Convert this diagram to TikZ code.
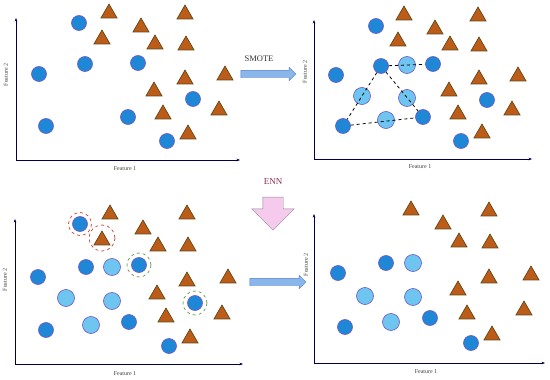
\documentclass[tikz,border=0pt]{standalone}
\usepackage{fontspec}
\setmainfont{Liberation Serif}
\usepackage{xcolor}
\usetikzlibrary{arrows.meta,shapes.geometric,shapes.arrows}
\definecolor{majblue}{RGB}{30,136,214}
\definecolor{synblue}{RGB}{110,198,240}
\definecolor{ptedge}{RGB}{112,84,196}
\definecolor{minfill}{RGB}{188,92,24}
\definecolor{minedge}{RGB}{96,72,22}
\definecolor{arrblue}{RGB}{138,182,236}
\definecolor{arredge}{RGB}{78,128,200}
\definecolor{ennpink}{RGB}{245,202,236}

\begin{document}
\begin{tikzpicture}[x=1pt, y=-1pt,
  dot/.style={circle, draw=ptedge, fill=majblue, minimum size=15pt, inner sep=0pt, line width=0.6pt},
  syn/.style={dot, fill=synblue, minimum size=17pt},
  tri/.style={regular polygon, regular polygon sides=3, draw=minedge, fill=minfill, minimum size=18.5pt, inner sep=0pt, line width=0.7pt, yshift=-2.3pt},
  axis/.style={{Stealth[length=3.5pt]}-{Stealth[length=3.5pt]}, draw=black!70!blue, line width=0.7pt},
  lab/.style={font=\fontsize{6}{7}\selectfont, text=black!75},
  ring/.style={dashed, line width=0.7pt},
  flow/.style={single arrow, draw=arredge, fill=arrblue, inner xsep=0pt, inner ysep=3.5pt, single arrow head extend=3pt}]
  \useasboundingbox (0,0) rectangle (550,380);

  % panel 1: original data
  \coordinate (o1) at (16,160); \coordinate (y1) at (16,18); \coordinate (x1) at (240,160);
  \draw[axis] (y1) -- (o1) -- (x1);
  \node[lab] (f1x) at (125,169) {Feature 1};
  \node[lab, rotate=90] (f1y) at (6,75) {Feature 2};
  \foreach \x/\y [count=\i] in {79/23,85/64,138/63,39/74,193/99,128/117,46/126,167/141}
    \node[dot] (a\i) at (\x,\y) {};
  \foreach \x/\y [count=\i] in {109/11,185/12,141/25,102/37,155/42,186/43,185/77,225/73,154/89,163/112,219/108,188/132}
    \node[tri] (at\i) at (\x,\y) {};

  % panel 2: after SMOTE
  \coordinate (o2) at (314,159); \coordinate (y2) at (314,20); \coordinate (x2) at (532,159);
  \draw[axis] (y2) -- (o2) -- (x2);
  \node[lab] (f2x) at (420,167) {Feature 1};
  \node[lab, rotate=90] (f2y) at (305,72) {Feature 2};
  \foreach \x/\y [count=\i] in {376/26,381/66,433/64,336/75,423/117,343/126,461/141,487/100}
    \node[dot] (b\i) at (\x,\y) {};
  \foreach \x/\y [count=\i] in {407/65,362/96,407/98,386/120}
    \node[syn] (bs\i) at (\x,\y) {};
  \foreach \x/\y [count=\i] in {404/13,478/14,435/27,398/39,450/43,479/44,479/77,518/74,449/89,458/112,512/108,482/131}
    \node[tri] (bt\i) at (\x,\y) {};
  \draw[dashed, line width=0.8pt] (b2) -- (b3) (b2) -- (b6) (b2) -- (b5) (b6) -- (b5);

  % panel 3: ENN marks noisy points
  \coordinate (o3) at (15,364); \coordinate (y3) at (15,219); \coordinate (x3) at (243,364);
  \draw[axis] (y3) -- (o3) -- (x3);
  \node[lab] (f3x) at (125,374) {Feature 1};
  \node[lab, rotate=90] (f3y) at (5,280) {Feature 2};
  \foreach \x/\y [count=\i] in {80/224,86/267,139/265,38/277,195/303,129/322,46/330,169/346}
    \node[dot] (c\i) at (\x,\y) {};
  \foreach \x/\y [count=\i] in {112/267,66/298,112/301,91/325}
    \node[syn] (cs\i) at (\x,\y) {};
  \foreach \x/\y [count=\i] in {110/212,187/212,143/227,102/238,158/244,188/244,187/279,228/276,157/292,166/315,222/312,190/336}
    \node[tri] (ct\i) at (\x,\y) {};
  \draw[ring, draw={rgb,255:red,200;green,70;blue,60}] (c1) circle (11.5) (102,238) circle (13);
  \draw[ring, draw={rgb,255:red,96;green,160;blue,80}] (c3) circle (12) (c5) circle (12);

  % panel 4: cleaned data
  \coordinate (o4) at (314,363); \coordinate (y4) at (314,214); \coordinate (x4) at (545,363);
  \draw[axis] (y4) -- (o4) -- (x4);
  \node[lab] (f4x) at (426,372) {Feature 1};
  \node[lab, rotate=90] (f4y) at (306,265) {Feature 2};
  \foreach \x/\y [count=\i] in {386/263,338/273,430/318,345/327,471/343}
    \node[dot] (d\i) at (\x,\y) {};
  \foreach \x/\y [count=\i] in {413/263,365/296,413/297,391/322}
    \node[syn] (ds\i) at (\x,\y) {};
  \foreach \x/\y [count=\i] in {411/208,489/209,443/222,459/240,490/241,489/276,531/273,458/288,467/312,524/308,492/333}
    \node[tri] (dt\i) at (\x,\y) {};

  % steps between panels
  \node[flow, minimum height=55pt] (smote) at (266.5,74) {};
  \node[font=\fontsize{8.5}{10}\selectfont, text=black!80] (smotel) at (259,59) {SMOTE};
  \node[single arrow, rotate=-90, draw=black!45, fill=ennpink, minimum height=33pt, inner xsep=0pt, inner ysep=10pt,
        single arrow head extend=11pt] (enn) at (273,208.5) {};
  \node[font=\fontsize{9}{10}\selectfont, text={rgb,255:red,140;green,45;blue,70}] (ennl) at (273,182) {ENN};
  \node[flow, minimum height=56pt] (clean) at (276,282) {};
\end{tikzpicture}
\end{document}
